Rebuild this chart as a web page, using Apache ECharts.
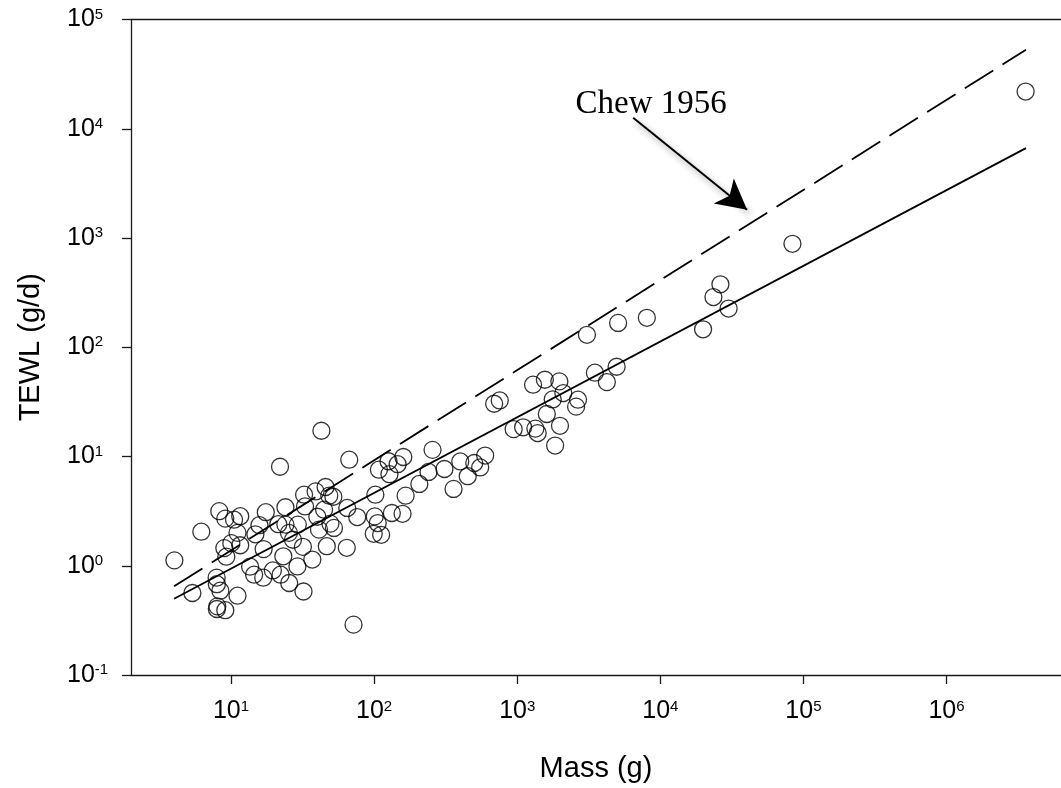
<!DOCTYPE html>
<html>
<head>
    <meta charset="utf-8" />
    <title>TEWL vs Mass</title>
    <script src="https://cdn.jsdelivr.net/npm/echarts@6/dist/echarts.min.js"></script>
    <style>
        html, body { margin: 0; padding: 0; background: #fff; }
        #main { width: 1061px; height: 788px; }
    </style>
</head>
<body>
<div id="main"></div>
<script type="text/javascript">
    // body mass (g) and water loss (g/d)
    var mass = [
        4.02, 5.37, 6.20, 8.28, 9.12, 10.5, 11.6, 11.1, 8.98, 9.27,
        10.05, 11.6, 7.93, 7.96, 8.42, 11.1, 8.02, 7.96, 9.12, 17.5,
        15.8, 14.8, 16.9, 13.6, 14.5, 16.8, 19.6, 22.2, 25.5, 32.1,
        24.0, 21.4, 24.0, 25.4, 29.3, 27.1, 31.8, 23.2, 29.1, 37.0,
        32.4, 39.0, 45.8, 48.6, 51.9, 32.9, 40.1, 44.7, 41.2, 49.5,
        52.4, 46.7, 64.4, 64.9, 76.2, 71.8, 102, 101, 106, 99.4,
        112, 108, 126, 146, 160, 128, 133, 158, 166, 207,
        256, 240, 310, 400, 451, 501, 551, 597, 359, 42.8,
        22.0, 67.0, 690, 755, 944, 1100, 1340, 1390, 1290, 1560,
        1970, 2100, 1770, 2660, 2580, 1610, 1990, 1840, 3070, 3490,
        4230, 4950, 5070, 8050, 19900, 23500, 26300, 30000, 83800, 3570000
    ];
    var tewl = [
        1.12, 0.563, 2.05, 3.16, 2.70, 2.64, 2.84, 2.00, 1.45, 1.21,
        1.61, 1.54, 0.778, 0.678, 0.591, 0.532, 0.425, 0.402, 0.392, 3.09,
        2.35, 1.94, 1.42, 0.98, 0.828, 0.778, 0.906, 0.828, 0.695, 0.581,
        3.43, 2.40, 2.38, 2.00, 2.38, 1.73, 1.49, 1.22, 0.986, 1.14,
        4.47, 4.79, 5.26, 4.38, 4.28, 3.49, 2.81, 3.26, 2.14, 2.43,
        2.22, 1.51, 1.46, 3.38, 2.79, 0.289, 4.47, 2.83, 2.46, 1.96,
        1.92, 7.57, 9.05, 8.50, 9.89, 6.89, 3.04, 2.99, 4.38, 5.61,
        11.5, 7.22, 7.68, 9.01, 6.60, 8.72, 7.94, 10.2, 5.05, 17.2,
        8.06, 9.35, 30.4, 32.6, 17.8, 18.5, 18.0, 16.4, 45.4, 50.4,
        48.7, 38.1, 33.3, 33.1, 28.6, 24.5, 19.1, 12.6, 130, 58.5,
        48.0, 66.3, 167, 186, 146, 288, 377, 226, 885, 21900
    ];

    // fitted allometric line and Chew (1956) line, end points
    var lineMass = [4, 3590000];
    var fitTewl = [0.498, 6650];
    var chewTewl = [0.649, 52800];

    // annotation: label and arrow, in data units
    var chewLabel = [8630, 16600];
    var arrowFrom = [6460, 12600];
    var arrowTo = [40400, 1812];

    var xTicks = [10, 100, 1000, 10000, 100000, 1000000];

    var points = mass.map(function (m, i) { return [m, tewl[i]]; });
    var fitLine = lineMass.map(function (m, i) { return [m, fitTewl[i]]; });
    var chewLine = lineMass.map(function (m, i) { return [m, chewTewl[i]]; });

    function powLabel(v) {
        var e = Math.log10(v);
        var r = Math.round(e);
        if (Math.abs(e - r) > 0.01) return '';
        return '{b|10}{s|' + r + '}';
    }

    var labelRich = {
        b: { fontSize: 25, fontFamily: 'Liberation Sans', color: '#000' },
        s: { fontSize: 15, fontFamily: 'Liberation Sans', color: '#000', verticalAlign: 'top' }
    };
    var axisCol = '#1a1a1a';

    var myChart = echarts.init(document.getElementById('main'));
    var option = {
        animation: false,
        backgroundColor: '#fff',
        grid: { left: 131, right: 0, top: 19.5, bottom: 112.5 },
        xAxis: [{
            type: 'log',
            min: 2,
            max: 6309573,
            name: 'Mass (g)',
            nameLocation: 'middle',
            nameGap: 79,
            nameTextStyle: { fontSize: 29, fontFamily: 'Liberation Sans', color: '#000' },
            axisLine: { lineStyle: { color: axisCol, width: 1.3 } },
            axisTick: { length: 9, lineStyle: { color: axisCol, width: 1.3 }, customValues: xTicks },
            axisLabel: { margin: 24, formatter: powLabel, rich: labelRich, customValues: xTicks },
            splitLine: { show: false },
            minorTick: { show: false }
        }, {
            type: 'log',
            position: 'top',
            min: 2,
            max: 6309573,
            axisLine: { lineStyle: { color: axisCol, width: 1.3 } },
            axisTick: { show: false },
            axisLabel: { show: false },
            splitLine: { show: false }
        }],
        yAxis: {
            type: 'log',
            min: 0.1,
            max: 100000,
            name: 'TEWL (g/d)',
            nameLocation: 'middle',
            nameGap: 86,
            nameTextStyle: { fontSize: 29, fontFamily: 'Liberation Sans', color: '#000' },
            axisLine: { lineStyle: { color: axisCol, width: 1.3 } },
            axisTick: { length: 9, lineStyle: { color: axisCol, width: 1.3 } },
            axisLabel: { margin: 64, align: 'left', formatter: powLabel, rich: labelRich },
            splitLine: { show: false },
            minorTick: { show: false }
        },
        series: [{
            name: 'data',
            type: 'scatter',
            data: points,
            symbol: 'circle',
            symbolSize: 17,
            itemStyle: { color: 'rgba(255,255,255,0)', borderColor: '#000', borderWidth: 1.3 },
            silent: true
        }, {
            name: 'fit',
            type: 'line',
            data: fitLine,
            showSymbol: false,
            lineStyle: { color: '#000', width: 1.8 },
            silent: true
        }, {
            name: 'Chew 1956',
            type: 'line',
            data: chewLine,
            showSymbol: false,
            lineStyle: { color: '#000', width: 1.8, type: [33.5, 11] },
            silent: true,
            markLine: {
                silent: true,
                symbol: ['none', 'arrow'],
                symbolSize: [24, 30],
                label: { show: false },
                lineStyle: {
                    type: 'solid', color: '#000', width: 2,
                    shadowColor: 'rgba(0,0,0,0.45)', shadowBlur: 6, shadowOffsetX: 3, shadowOffsetY: 4
                },
                data: [[{ coord: arrowFrom }, { coord: arrowTo }]]
            },
            markPoint: {
                silent: true,
                symbol: 'rect',
                symbolSize: 1,
                itemStyle: { color: 'rgba(0,0,0,0)' },
                label: {
                    show: true, position: 'inside', formatter: 'Chew 1956',
                    color: '#000', fontSize: 33, fontFamily: 'Liberation Serif'
                },
                data: [{ coord: chewLabel }]
            }
        }]
    };
    myChart.setOption(option);
</script>
</body>
</html>
